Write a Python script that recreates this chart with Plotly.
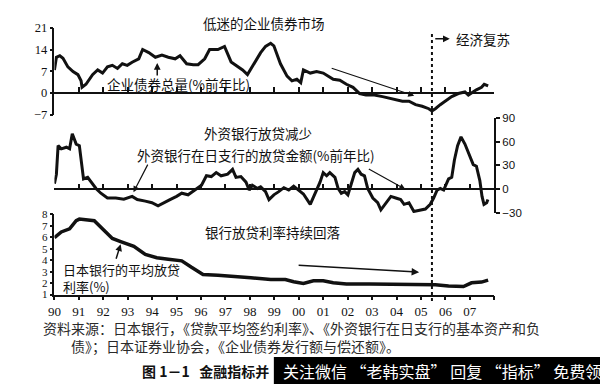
import plotly.graph_objects as go

# ---------------- data ----------------
bond_years = [1990.0, 1990.08, 1990.22, 1990.35, 1990.55, 1990.76, 1990.96, 1991.09, 1991.13, 1991.29,
              1991.56, 1991.77, 1991.97, 1992.17, 1992.37, 1992.58, 1992.78, 1992.98, 1993.18, 1993.32,
              1993.45, 1993.61, 1993.86, 1994.13, 1994.40, 1994.66, 1994.94, 1995.14, 1995.41, 1995.68,
              1995.88, 1996.15, 1996.35, 1996.69, 1996.96, 1997.23, 1997.50, 1997.70, 1997.90, 1998.17,
              1998.44, 1998.64, 1998.85, 1998.98, 1999.25, 1999.52, 1999.72, 1999.92, 2000.08, 2000.19,
              2000.47, 2000.73, 2001.00, 2001.21, 2001.41, 2001.68, 2001.95, 2002.22, 2002.49, 2002.75,
              2003.09, 2003.43, 2003.70, 2003.97, 2004.24, 2004.51, 2004.78, 2005.05, 2005.32, 2005.45,
              2005.59, 2005.79, 2005.99, 2006.26, 2006.53, 2006.80, 2006.94, 2007.07, 2007.27, 2007.48,
              2007.59, 2007.75]
bond_growth = [7.4, 11.5, 12.0, 11.2, 8.4, 6.9, 5.9, 3.9, 1.8, 2.8,
               5.9, 7.4, 6.4, 8.4, 8.9, 7.9, 9.4, 8.9, 9.9, 10.4,
               11.0, 14.0, 13.0, 11.5, 12.2, 11.5, 11.0, 12.0, 9.4, 9.1,
               9.1, 11.0, 14.0, 14.0, 15.0, 10.0, 8.4, 7.4, 5.9, 9.4,
               13.0, 15.0, 16.0, 15.2, 9.4, 5.4, 3.9, 4.4, 3.3, 7.4,
               6.4, 6.9, 6.4, 5.4, 4.4, 4.1, 2.8, 1.8, -0.2, -0.7,
               -0.7, -1.2, -1.7, -2.2, -2.7, -2.7, -3.8, -4.3, -5.1, -5.8,
               -5.1, -3.8, -2.7, -1.2, -0.2, 0.3, -0.7, 0.0, 1.0, 1.8,
               2.8, 2.3]

loan_years = [1990.0, 1990.08, 1990.15, 1990.28, 1990.49, 1990.62, 1990.73, 1990.89, 1991.02, 1991.19,
              1991.36, 1991.57, 1991.70, 1991.90, 1992.17, 1992.51, 1992.84, 1993.18, 1993.39, 1993.72,
              1993.99, 1994.24, 1994.46, 1994.73, 1995.00, 1995.21, 1995.47, 1995.74, 1996.02, 1996.22,
              1996.42, 1996.62, 1996.82, 1997.09, 1997.29, 1997.43, 1997.63, 1997.84, 1997.97, 1998.10,
              1998.31, 1998.44, 1998.64, 1998.78, 1998.98, 1999.18, 1999.39, 1999.59, 1999.79, 1999.99,
              2000.19, 2000.47, 2000.67, 2000.87, 2001.00, 2001.14, 2001.27, 2001.48, 2001.61, 2001.74,
              2001.88, 2002.01, 2002.15, 2002.29, 2002.42, 2002.55, 2002.69, 2002.82, 2003.03, 2003.23,
              2003.36, 2003.56, 2003.77, 2003.97, 2004.17, 2004.31, 2004.51, 2004.71, 2004.98, 2005.18,
              2005.38, 2005.52, 2005.66, 2005.79, 2005.93, 2006.13, 2006.26, 2006.37, 2006.50, 2006.64,
              2006.80, 2007.00, 2007.14, 2007.27, 2007.41, 2007.50, 2007.58, 2007.69, 2007.74]
loan_growth = [7, 19, 55, 51, 53, 51, 70, 57, 55, 13,
               15, 7, 1, -5, -11, -11, -12.5, -9, -13, -15,
               -17, -21, -17, -13, -9, -5, -7, -1, 5, 17,
               16, 21, 17, 19, 25, 15, 16, 9, -1, 5,
               1, 3, -3, -13, -7, -3, 2, -1, 4, -1,
               -6, -19, -5, 9, 21, 17, 21, 15, 1, -5,
               -3, -7, 7, 21, 25, 19, 17, 1, -11, -17,
               -26, -17, -9, -11, -13, -19, -17, -28, -26, -25,
               -19, -11, -1, 1, -1, 13, 15, 37, 55, 66,
               57, 43, 31, 29, 11, -9, -19, -17, -13]

rate_years = [1990.0, 1990.28, 1990.62, 1990.89, 1991.02, 1991.29, 1991.63, 1992.10, 1992.37, 1992.71,
              1993.25, 1993.72, 1994.19, 1994.66, 1995.21, 1995.61, 1996.08, 1996.69, 1997.36, 1998.04,
              1998.85, 1999.45, 1999.79, 2000.19, 2000.60, 2001.00, 2001.41, 2001.95, 2002.89, 2003.97,
              2004.92, 2005.59, 2006.13, 2006.74, 2007.07, 2007.48, 2007.75]
lending_rate = [5.96, 6.46, 6.74, 7.44, 7.58, 7.52, 7.44, 6.46, 5.9, 5.62,
                5.2, 4.5, 4.22, 4.08, 3.94, 3.38, 2.76, 2.68, 2.6, 2.48,
                2.31, 2.31, 2.12, 1.97, 2.2, 2.2, 2.03, 1.92, 1.92, 1.92,
                1.92, 1.87, 1.76, 1.70, 2.03, 2.09, 2.26]

assert len(bond_years) == len(bond_growth)
assert len(loan_years) == len(loan_growth)
assert len(rate_years) == len(lending_rate)

year_ticks = list(range(1990, 2009))
year_labels = ["90", "91", "92", "93", "94", "95", "96", "97", "98", "99",
               "00", "01", "02", "03", "04", "05", "06", "07", ""]
bond_ticks = [-7, 0, 7, 14, 21]
bond_tick_labels = ["\u22127", "0", "7", "14", "21"]
loan_ticks = [-30, 0, 30, 60, 90]
loan_tick_labels = ["\u221230", "0", "30", "60", "90"]
rate_ticks = [1, 2, 3, 4, 5, 6, 7, 8]
recovery_start = 2005.45

# ---------------- layout helpers ----------------
W, H = 600, 391
def px(x):
    return x / W
def py(y):
    return 1 - y / H

CJK = "Noto Sans CJK SC"
SERIF = "Liberation Serif"
SANS = "Liberation Sans"
INK = "#111111"

X0, X1 = 48, 493
p1_dom = [py(111.6), py(21.6)]
p2_dom = [py(213.7), py(115)]
p3_dom = [py(298.3), py(215)]
p1_range = [-7, 21]
p2_range = [-30, 90]
p3_range = [1, 8]

def zero_pos(dom, rng):
    return dom[0] + (0 - rng[0]) / (rng[1] - rng[0]) * (dom[1] - dom[0])

fig = go.Figure()
line_style = dict(color=INK, width=3)
fig.add_trace(go.Scatter(x=bond_years, y=bond_growth, mode="lines", line=line_style,
                         xaxis="x2", yaxis="y", showlegend=False, hoverinfo="skip"))
fig.add_trace(go.Scatter(x=loan_years, y=loan_growth, mode="lines", line=line_style,
                         xaxis="x3", yaxis="y2", showlegend=False, hoverinfo="skip"))
fig.add_trace(go.Scatter(x=rate_years, y=lending_rate, mode="lines", line=dict(color=INK, width=3.5),
                         xaxis="x", yaxis="y3", showlegend=False, hoverinfo="skip"))

axis_common = dict(showgrid=False, zeroline=False, showline=True, linecolor=INK, linewidth=1.5,
                   tickcolor=INK, tickwidth=1.5)

fig.update_layout(
    width=W, height=H, autosize=False,
    margin=dict(l=0, r=0, t=0, b=0),
    paper_bgcolor="white", plot_bgcolor="rgba(0,0,0,0)",
    xaxis=dict(domain=[px(X0), px(X1)], range=[1990, 2008], anchor="y3",
               tickvals=year_ticks, ticktext=year_labels, ticks="outside", ticklen=4,
               tickfont=dict(family=SERIF, size=13, color=INK), **axis_common),
    xaxis2=dict(domain=[px(X0), px(X1)], range=[1990, 2008], anchor="free",
                position=zero_pos(p1_dom, p1_range), matches="x",
                tickvals=year_ticks, ticks="inside", ticklen=5, showticklabels=False, **axis_common),
    xaxis3=dict(domain=[px(X0), px(X1)], range=[1990, 2008], anchor="free",
                position=zero_pos(p2_dom, p2_range), matches="x",
                tickvals=year_ticks, ticks="inside", ticklen=5, showticklabels=False, **axis_common),
    yaxis=dict(domain=p1_dom, range=p1_range, anchor="x2", side="left",
               tickvals=bond_ticks, ticktext=bond_tick_labels, ticks="outside", ticklen=3,
               tickfont=dict(family=SERIF, size=12.5, color=INK), **axis_common),
    yaxis2=dict(domain=p2_dom, range=p2_range, anchor="x3", side="right",
                tickvals=loan_ticks, ticktext=loan_tick_labels, ticks="outside", ticklen=4,
                tickfont=dict(family=SANS, size=11.5, color=INK), **axis_common),
    yaxis3=dict(domain=p3_dom, range=p3_range, anchor="x", side="left",
                tickvals=rate_ticks, ticks="outside", ticklen=3,
                tickfont=dict(family=SERIF, size=11, color=INK), **axis_common),
)

# dotted recovery line
fig.add_shape(type="line", xref="x", yref="paper", x0=recovery_start, x1=recovery_start,
              y0=py(305), y1=py(25), line=dict(color=INK, width=2, dash="dot"))

# watermark box
fig.add_shape(type="rect", xref="paper", yref="paper", x0=px(270), x1=1, y0=0, y1=py(363),
              line=dict(width=0), fillcolor="black")

def label(text, x, y, size=13.5, anchor="center", color=INK, family=CJK):
    fig.add_annotation(text=text, xref="paper", yref="paper", x=px(x), y=py(y),
                       xanchor=anchor, yanchor="middle", showarrow=False, align="left",
                       font=dict(family=family, size=size, color=color))

def arrow(tail, head, width=1.3, size=1.0):
    fig.add_annotation(text="", xref="paper", yref="paper", x=px(head[0]), y=py(head[1]),
                       ax=tail[0] - head[0], ay=tail[1] - head[1], axref="pixel", ayref="pixel",
                       showarrow=True, arrowhead=2, arrowsize=size, arrowwidth=width, arrowcolor=INK)

label("低迷的企业债券市场", 260, 17)
label("经济复苏", 452, 33, anchor="left")
label("企业债券总量(%前年比)", 174, 80)
label("外资银行放贷减少", 254, 131)
label("外资银行在日支行的放贷金额(%前年比)", 252, 153)
label("银行放贷利率持续回落", 269, 233)
label("日本银行的平均放贷<br>利率(%)", 55, 281, size=13, anchor="left")
label("资料来源：日本银行，《贷款平均签约利率》、《外资银行在日支行的基本资产和负<br>"
      "\u3000\u3000债》；日本证券业协会，《企业债券发行额与偿还额》。", 34, 342,
      size=14, anchor="left", color="#2a2a2a")
label("<b>图 1－1   金融指标并</b>", 135, 378, size=14, anchor="left")
label("关注微信 “老韩实盘” 回复 “指标” 免费领", 277, 378, size=16, anchor="left", color="white")

arrow((432, 33), (448, 33), width=1.5, size=0.9)
arrow((152, 72), (152, 58), width=1.5, size=0.9)
arrow((328, 64), (412, 92), width=1.2)
arrow((143, 163), (128, 192), width=1.2)
arrow((365, 168), (403, 189), width=1.2)
arrow((110, 262), (115, 246), width=1.5, size=0.9)
arrow((295, 268), (417, 275), width=1.5)

fig.write_html("out.html", config={"displayModeBar": False},
               post_script="document.body.style.margin='0';document.body.style.overflow='hidden';")
